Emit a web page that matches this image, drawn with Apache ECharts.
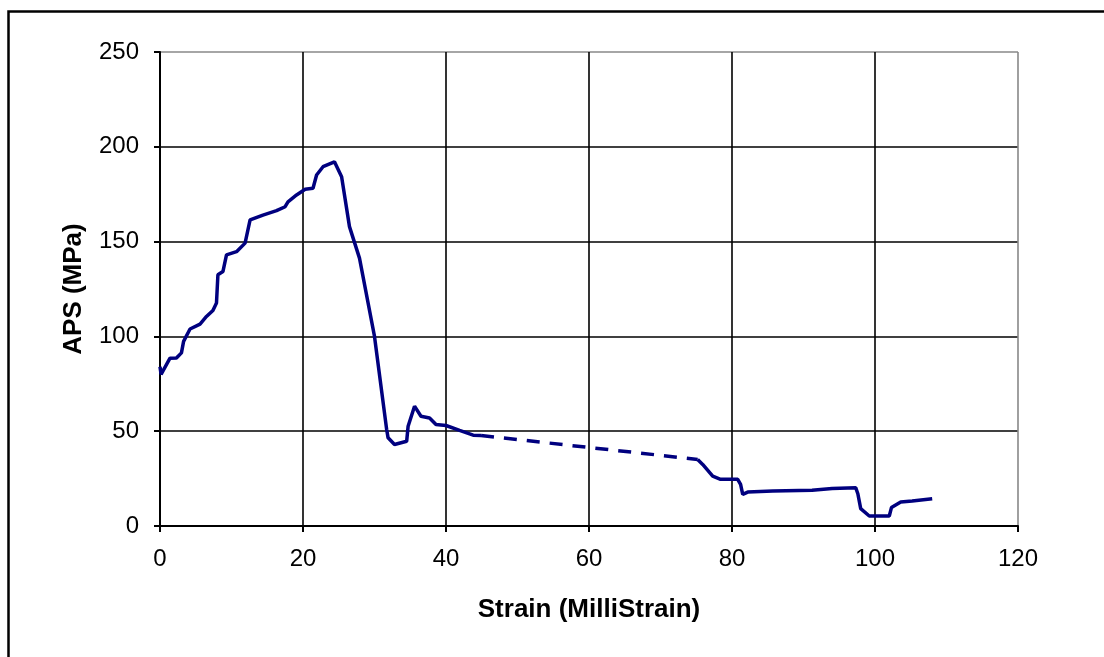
<!DOCTYPE html>
<html>
<head>
<meta charset="utf-8">
<script src="https://cdn.jsdelivr.net/npm/echarts@6/dist/echarts.min.js"></script>
<style>
html,body{margin:0;padding:0;background:#fff;}
#c{width:1104px;height:657px;}
</style>
</head>
<body>
<div id="c"></div>
<script>
// Data
const strainA = [0,0.15,1.4,2.3,3.0,3.3,4.2,5.6,6.5,7.4,7.9,8.1,8.8,9.3,10.7,11.9,12.6,14.4,16.3,17.5,17.9,19.1,20.3,21.4,21.9,22.8,24.4,25.4,26.5,27.9,30.0,31.7,31.9,32.8,34.5,34.7,35.6,36.5,37.7,38.6,40.0,41.9,43.8,44.9];
const apsA    = [84,80,88.5,88.6,91.3,97.4,103.9,106.5,110.5,113.7,117.6,132.5,134.2,143,144.7,149.2,161.4,164,166.3,168.4,171,174.6,177.6,178.1,185.1,189.5,192.1,184.2,157.9,141.3,100,50.9,46.5,43,44.7,52.6,63.2,57.9,57,53.5,53,50.4,47.9,47.7];
const strainDash = [44.9,75.2];
const apsDash    = [47.7,35.1];
const strainB = [75.2,75.9,77.3,78.4,80.8,81.2,81.5,82.2,85.7,91.2,94.0,97.3,97.6,98.0,99.2,102.0,102.3,103.6,105.2,108.0];
const apsB    = [35.1,32.5,26.3,24.6,24.6,21.9,16.7,17.9,18.4,18.8,19.8,20.2,17,9.2,5.3,5.3,9.7,12.6,13.2,14.4];
const xTicks = {min:0, max:120, interval:20};
const yTicks = {min:0, max:250, interval:50};
const xTitle = 'Strain (MilliStrain)';
const yTitle = 'APS (MPa)';

const pairs = (xs, ys) => xs.map((x, i) => [x, ys[i]]);
const lineColor = '#00007f';
const font = '"Liberation Sans", Arial, sans-serif';

const chart = echarts.init(document.getElementById('c'), null, {renderer:'canvas'});
chart.setOption({
  animation:false,
  backgroundColor:'#fff',
  grid:{left:160, right:86, top:52, bottom:131, show:false},
  graphic:[{
    type:'rect', left:6, top:9, z:100,
    shape:{x:0,y:0,width:1200,height:800},
    style:{fill:'none', stroke:'#000', lineWidth:2.5}
  }],
  xAxis:{
    type:'value', min:xTicks.min, max:xTicks.max, interval:xTicks.interval,
    name:xTitle, nameLocation:'middle', nameGap:71, nameMoveOverlap:false,
    nameTextStyle:{fontFamily:font, fontWeight:'bold', fontSize:26, color:'#000'},
    axisLine:{show:true, lineStyle:{color:'#000', width:2}},
    axisTick:{show:true, length:6, lineStyle:{color:'#000', width:2}},
    axisLabel:{fontFamily:font, fontSize:24, color:'#000', margin:21},
    splitLine:{show:true, lineStyle:{color:['#000','#000','#000','#000','#000','#000','#888'], width:1.6}}
  },
  yAxis:{
    type:'value', min:yTicks.min, max:yTicks.max, interval:yTicks.interval,
    name:yTitle, nameLocation:'middle', nameGap:73, nameMoveOverlap:false,
    nameTextStyle:{fontFamily:font, fontWeight:'bold', fontSize:26, color:'#000'},
    axisLine:{show:true, lineStyle:{color:'#000', width:2}},
    axisTick:{show:true, length:6, lineStyle:{color:'#000', width:2}},
    axisLabel:{fontFamily:font, fontSize:24, color:'#000', margin:21},
    splitLine:{show:true, lineStyle:{color:['#000','#000','#000','#000','#000','#888'], width:1.6}}
  },
  series:[
    {type:'line', data:pairs(strainA, apsA), showSymbol:false, symbol:'none',
     lineStyle:{color:lineColor, width:3.5}, z:5},
    {type:'line', data:pairs(strainDash, apsDash), showSymbol:false, symbol:'none',
     lineStyle:{color:lineColor, width:3.5, type:[13,10]}, z:5},
    {type:'line', data:pairs(strainB, apsB), showSymbol:false, symbol:'none',
     lineStyle:{color:lineColor, width:3.5}, z:5}
  ]
});
</script>
</body>
</html>
